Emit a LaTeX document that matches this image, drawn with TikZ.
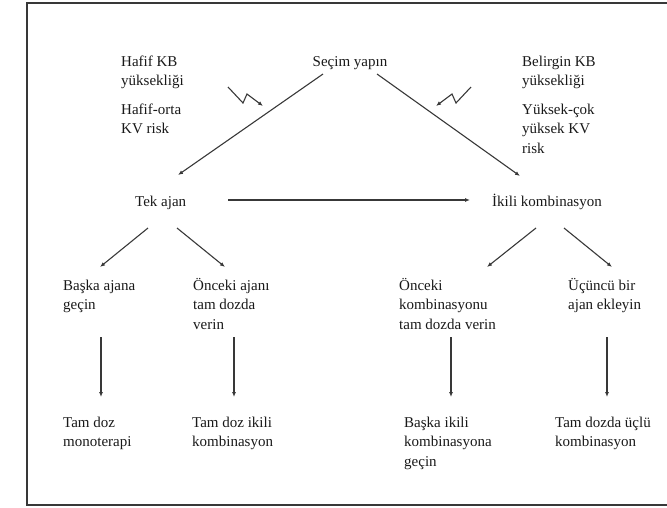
\documentclass[tikz,border=0pt]{standalone}
\usepackage{fontspec}
\setmainfont{Liberation Serif}
\usetikzlibrary{arrows.meta}
\begin{document}
\begin{tikzpicture}[x=1pt,y=-1pt,
  lbl/.style={anchor=base west,inner sep=0pt,align=left,font=\fontsize{15}{19.5}\selectfont,text=black!90},
  arr/.style={draw=black!78,line width=1.1pt,-{Latex[length=5pt,width=4pt]}},
  frame/.style={draw=black!78,line width=2pt}]
\useasboundingbox (0,0) rectangle (667,507);
\begin{scope}
  \clip (0,0) rectangle (667,507);
  \draw[frame] (700,3) -- (27,3) -- (27,505) -- (700,505);
\end{scope}

% texts (base anchor = baseline of the last line)
\node[lbl] (hb) at (121,85.5) {Hafif KB\\yüksekliği};
\node[lbl] (ho) at (121,133.5) {Hafif-orta\\KV risk};
\node[lbl,anchor=base] (sec) at (350,66) {Seçim yapın};
\node[lbl] (bk) at (522,85.5) {Belirgin KB\\yüksekliği};
\node[lbl] (yc) at (522,153) {Yüksek-çok\\yüksek KV\\risk};
\node[lbl] (tek) at (135,206) {Tek ajan};
\node[lbl] (iki) at (492,206) {İkili kombinasyon};
\node[lbl] (ba) at (63,309.5) {Başka ajana\\geçin};
\node[lbl] (oa) at (193,329) {Önceki ajanı\\tam dozda\\verin};
\node[lbl] (ok) at (399,329) {Önceki\\kombinasyonu\\tam dozda verin};
\node[lbl] (ub) at (568,309.5) {Üçüncü bir\\ajan ekleyin};
\node[lbl] (tdm) at (63,446.5) {Tam doz\\monoterapi};
\node[lbl] (tdi) at (192,446.5) {Tam doz ikili\\kombinasyon};
\node[lbl] (bik) at (404,466) {Başka ikili\\kombinasyona\\geçin};
\node[lbl] (tdu) at (555,446.5) {Tam dozda üçlü\\kombinasyon};

% connector end points
\coordinate (secL) at (323,74);
\coordinate (tekT) at (178,175);
\coordinate (secR) at (377,74);
\coordinate (ikiT) at (520,176);
\coordinate (tekR) at (228,200);
\coordinate (ikiL) at (470,200);
\coordinate (tekBL) at (148,228);
\coordinate (baT) at (100,267);
\coordinate (tekBR) at (177,228);
\coordinate (oaT) at (225,267);
\coordinate (ikiBL) at (536,228);
\coordinate (okT) at (487,267);
\coordinate (ikiBR) at (564,228);
\coordinate (ubT) at (612,267);
\coordinate (baB) at (101,337);
\coordinate (tdmT) at (101,397);
\coordinate (oaB) at (234,337);
\coordinate (tdiT) at (234,397);
\coordinate (okB) at (451,337);
\coordinate (bikT) at (451,397);
\coordinate (ubB) at (607,337);
\coordinate (tduT) at (607,397);
\coordinate (zl0) at (228,87);
\coordinate (zl1) at (243,103);
\coordinate (zl2) at (247,94);
\coordinate (zl3) at (263,106);
\coordinate (zr0) at (471,87);
\coordinate (zr1) at (456,103);
\coordinate (zr2) at (452,94);
\coordinate (zr3) at (436,106);

% connectors
\draw[arr] (secL) -- (tekT);
\draw[arr] (secR) -- (ikiT);
\draw[arr] (zl0) -- (zl1) -- (zl2) -- (zl3);
\draw[arr] (zr0) -- (zr1) -- (zr2) -- (zr3);
\draw[arr] (tekR) -- (ikiL);
\draw[arr] (tekBL) -- (baT);
\draw[arr] (tekBR) -- (oaT);
\draw[arr] (ikiBL) -- (okT);
\draw[arr] (ikiBR) -- (ubT);
\draw[arr] (baB) -- (tdmT);
\draw[arr] (oaB) -- (tdiT);
\draw[arr] (okB) -- (bikT);
\draw[arr] (ubB) -- (tduT);
\end{tikzpicture}
\end{document}
